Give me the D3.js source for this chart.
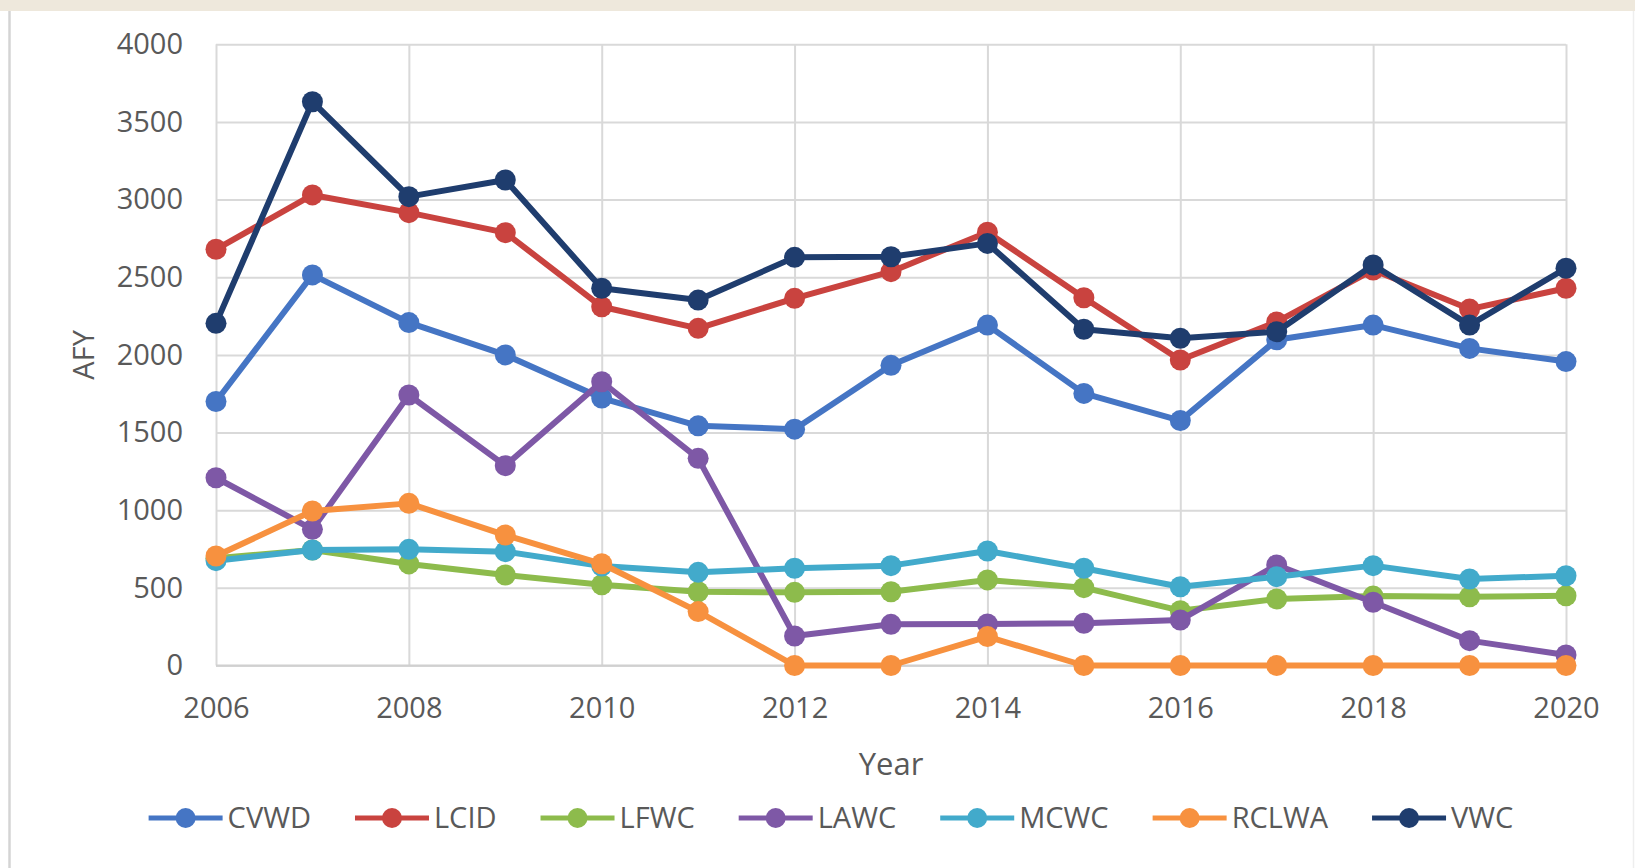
<!DOCTYPE html>
<html>
<head>
<meta charset="utf-8">
<script src="https://cdnjs.cloudflare.com/ajax/libs/d3/7.8.5/d3.min.js"></script>
<style>
  body { margin: 0; background: #fff; }
  svg text { font-family: "Open Sans", sans-serif; fill: #595959; }
  .grid line { stroke: #d9d9d9; stroke-width: 2; }
  .grid .domain { display: none; }
</style>
</head>
<body>
<div id="chart"></div>
<script>
// anni e serie (AFY)
const years = [2006, 2007, 2008, 2009, 2010, 2011, 2012, 2013, 2014, 2015, 2016, 2017, 2018, 2019, 2020];
const cvwd  = [1700, 2515, 2208, 2000, 1722, 1543, 1522, 1933, 2192, 1752, 1577, 2097, 2192, 2042, 1957];
const lcid  = [2680, 3030, 2916, 2787, 2310, 2171, 2364, 2536, 2790, 2368, 1967, 2212, 2547, 2295, 2429];
const lfwc  = [690, 744, 654, 583, 520, 475, 471, 475, 551, 501, 353, 428, 447, 443, 449];
const lawc  = [1209, 877, 1742, 1287, 1827, 1334, 190, 265, 267, 272, 293, 647, 407, 160, 68];
const mcwc  = [675, 744, 748, 733, 640, 600, 626, 643, 737, 626, 507, 572, 643, 557, 578];
const rclwa = [705, 995, 1044, 840, 655, 347, 0, 0, 186, 0, 0, 0, 0, 0, 0];
const vwc   = [2203, 3630, 3019, 3126, 2429, 2353, 2628, 2632, 2718, 2165, 2107, 2149, 2579, 2192, 2558];

const seriesNames = ["CVWD", "LCID", "LFWC", "LAWC", "MCWC", "RCLWA", "VWC"];
const seriesValues = [cvwd, lcid, lfwc, lawc, mcwc, rclwa, vwc];
const seriesColors = ["#4575c4", "#c9433f", "#8dbb4c", "#7e58a6", "#42aacb", "#f7913f", "#1f3d6e"];

const yTicks = [0, 500, 1000, 1500, 2000, 2500, 3000, 3500, 4000];
const xTicks = [2006, 2008, 2010, 2012, 2014, 2016, 2018, 2020];

const width = 1635, height = 868;

let svg = d3.select("#chart").append("svg")
  .attr("width", width)
  .attr("height", height);

// sfondo: striscia beige in alto e bordo a sinistra
svg.append("rect")
  .attr("x", 0).attr("y", 0)
  .attr("width", width).attr("height", 11)
  .attr("fill", "#eee8dc");

svg.append("line")
  .attr("x1", 9.5).attr("x2", 9.5)
  .attr("y1", 11).attr("y2", height)
  .attr("stroke", "#d4d4d4")
  .attr("stroke-width", 2.5);

svg.append("line")
  .attr("x1", 1633.5).attr("x2", 1633.5)
  .attr("y1", 11).attr("y2", height)
  .attr("stroke", "#eeeeee")
  .attr("stroke-width", 1.5);

// scale
let x = d3.scaleLinear()
  .domain([2006, 2020])
  .range([216, 1566]);

let y = d3.scaleLinear()
  .domain([0, 4000])
  .range([665.5, 44.3]);

// griglia + etichette asse y
svg.append("g")
  .attr("class", "grid")
  .attr("transform", "translate(" + x.range()[0] + ",0)")
  .call(d3.axisLeft(y).tickValues(yTicks).tickFormat(d3.format("d"))
    .tickSize(-(x.range()[1] - x.range()[0])).tickPadding(33))
  .selectAll("text")
  .style("font-size", "29px");

// griglia + etichette asse x
svg.append("g")
  .attr("class", "grid")
  .attr("transform", "translate(0," + y(0) + ")")
  .call(d3.axisBottom(x).tickValues(xTicks).tickFormat(d3.format("d"))
    .tickSize(-(y(0) - y(4000))).tickPadding(32))
  .selectAll("text")
  .style("font-size", "29px");

// linea dell'asse
svg.append("line")
  .attr("x1", x.range()[0]).attr("x2", x.range()[1])
  .attr("y1", y(0)).attr("y2", y(0))
  .attr("stroke", "#d0d0d0")
  .attr("stroke-width", 2);

// titoli assi
svg.append("text")
  .attr("x", (x.range()[0] + x.range()[1]) / 2)
  .attr("y", 775)
  .attr("text-anchor", "middle")
  .style("font-size", "31px")
  .text("Year");

svg.append("text")
  .attr("transform", "translate(94," + (y(2000)) + ") rotate(-90)")
  .attr("text-anchor", "middle")
  .style("font-size", "29px")
  .text("AFY");

// linee e marker
let line = d3.line()
  .x((d, i) => x(years[i]))
  .y(d => y(d));

seriesValues.forEach(function(vals, k) {
  let g = svg.append("g");

  g.append("path")
    .attr("d", line(vals))
    .attr("fill", "none")
    .attr("stroke", seriesColors[k])
    .attr("stroke-width", 6)
    .attr("stroke-linejoin", "round");

  g.selectAll("circle")
    .data(vals)
    .enter()
    .append("circle")
    .attr("cx", (d, i) => x(years[i]))
    .attr("cy", d => y(d))
    .attr("r", 10.5)
    .attr("fill", seriesColors[k]);
});

// legenda, centrata nell'area del grafico
let legend = svg.append("g");
let items = legend.selectAll(".leg")
  .data(seriesNames)
  .enter()
  .append("g")
  .classed("leg", true);

items.append("line")
  .attr("x1", 0).attr("x2", 74)
  .attr("y1", 0).attr("y2", 0)
  .attr("stroke", (d, i) => seriesColors[i])
  .attr("stroke-width", 5);

items.append("circle")
  .attr("cx", 37).attr("cy", 0)
  .attr("r", 10)
  .attr("fill", (d, i) => seriesColors[i]);

items.append("text")
  .attr("x", 79)
  .attr("y", 0)
  .attr("dy", "0.35em")
  .style("font-size", "29px")
  .text(d => d);

let gap = 44;
let widths = [];
items.each(function() {
  widths.push(79 + d3.select(this).select("text").node().getComputedTextLength());
});
let total = d3.sum(widths) + gap * (widths.length - 1);
let cursor = 831 - total / 2;
items.attr("transform", function(d, i) {
  let t = "translate(" + cursor + ",818)";
  cursor += widths[i] + gap;
  return t;
});
</script>
</body>
</html>
